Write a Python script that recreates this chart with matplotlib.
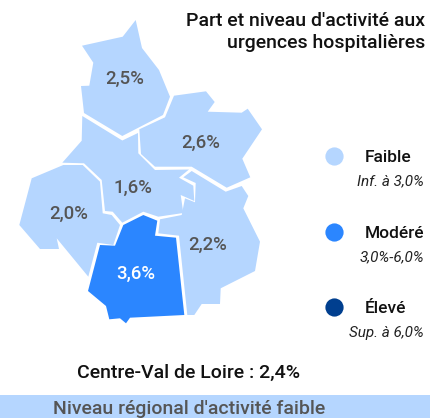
import matplotlib
matplotlib.use("Agg")
import matplotlib.pyplot as plt
from matplotlib.patches import Polygon, Rectangle

# departements, taux et niveau
dept_names = ["Eure-et-Loir", "Loiret", "Loir-et-Cher", "Indre-et-Loire", "Cher", "Indre"]
dept_values = ["2,5%", "2,6%", "1,6%", "2,0%", "2,2%", "3,6%"]
dept_levels = ["Faible", "Faible", "Faible", "Faible", "Faible", "Modéré"]

# contours des departements (repere image)
eure_et_loir = [(135.7, 20), (122.7, 36.7), (82, 45.7), (93.3, 62.7), (89.3, 85.7), (81, 86), (84, 113),
                (122.3, 136), (163, 115), (170, 96.7), (159, 70), (142, 48)]
loiret = [(174, 95.7), (206, 91.3), (214.7, 102), (207.7, 111.7), (241.7, 112.7), (247.7, 108.7), (262, 129.3),
          (242.3, 158.7), (250.3, 177.3), (226.7, 187.7), (191.7, 166.7), (155, 166.7), (141, 154),
          (139.3, 129.3), (165, 117.3)]
loir_et_cher = [(82.3, 116), (122.3, 140.5), (138, 133), (138.3, 153.3), (155, 170), (189, 169.5), (179, 177.7),
                (193.3, 185.7), (194.3, 201), (180.7, 195), (183.3, 213), (158.3, 216.7), (143.3, 211.7),
                (122.3, 222.7), (112.7, 211.7), (105, 211), (101.7, 180), (84, 163.3), (62.3, 162.7), (81.7, 140.7)]
indre_et_loire = [(31.7, 178.3), (63.3, 165), (82.7, 165), (100, 181.7), (102.7, 213.3), (111.7, 215), (120, 225),
                  (113.3, 245), (97.3, 242.7), (88.3, 276.7), (56.7, 238.3), (59, 249), (40, 249), (19.3, 225)]
cher = [(160, 219.3), (181.7, 215), (185, 198.3), (195, 202.3), (195.7, 183), (183.3, 177.3), (191.7, 171),
        (225.7, 191.7), (241.7, 186), (248.3, 196), (243.3, 208.3), (260, 241.7), (255, 271), (220.7, 288.3),
        (220, 304), (201.7, 304), (194.3, 315), (187.3, 315), (179, 235.7), (158.3, 233.3)]
indre = [(143.3, 215), (157.3, 220.7), (155, 235.7), (176, 237.7), (184.3, 315), (130, 317.7), (126, 323.3),
         (120, 318.3), (109.3, 319.3), (106, 306), (88, 291), (100, 245), (115, 245.7), (123.3, 225)]
dept_shapes = [eure_et_loir, loiret, loir_et_cher, indre_et_loire, cher, indre]
label_pos = [(125, 78.5), (201, 142.5), (133, 187.5), (69, 213.5), (208, 244.5), (136, 273.5)]

# legende
legend_levels = ["Faible", "Modéré", "Élevé"]
legend_ranges = ["Inf. à 3,0%", "3,0%-6,0%", "Sup. à 6,0%"]
level_colors = {"Faible": "#b5d6ff", "Modéré": "#2b86ff", "Élevé": "#003f8f"}

title_lines = ["Part et niveau d'activité aux", "urgences hospitalières"]
region_text = "Centre-Val de Loire : 2,4%"
region_level = "Niveau régional d'activité faible"

plt.rcParams['font.family'] = ['Roboto', 'DejaVu Sans']

fig = plt.figure(figsize=(4.34, 4.18), dpi=100)
ax = fig.add_axes([0, 0, 1, 1])
ax.set_xlim(0, 434)
ax.set_ylim(418, 0)
ax.axis('off')

# carte
for shape, level, value, pos in zip(dept_shapes, dept_levels, dept_values, label_pos):
    ax.add_patch(Polygon(shape, closed=True, facecolor=level_colors[level], edgecolor='none'))
    txt_color = 'white' if level != "Faible" else '#555555'
    ax.text(pos[0], pos[1], value, color=txt_color, fontsize=13.4, fontweight='medium', ha='center', va='center')

# titre
for line, y in zip(title_lines, [21, 43]):
    ax.text(425, y, line, color='#111111', fontsize=14, fontweight='medium', ha='right', va='center')

# legende
for i, (name, rng) in enumerate(zip(legend_levels, legend_ranges)):
    y_dot = 156 + i * 75.5
    ax.scatter([334], [y_dot], s=172, color=level_colors[name], linewidths=0)
    ax.text(365, y_dot + 1.5, name, color='#111111', fontsize=12.5, fontweight='medium', ha='left', va='center')
    ax.text(424, y_dot + 25.5, rng, color='#222222', fontsize=11, style='italic', ha='right', va='center')

# bas de page
ax.text(189, 373, region_text, color='#111111', fontsize=14, fontweight='medium', ha='center', va='center')
ax.add_patch(Rectangle((0, 395), 430, 23, facecolor='#b5d6ff', edgecolor='none'))
ax.text(189, 408.5, region_level, color='#555555', fontsize=14, fontweight='medium', ha='center', va='center')

fig.savefig("out.png", dpi=100)
